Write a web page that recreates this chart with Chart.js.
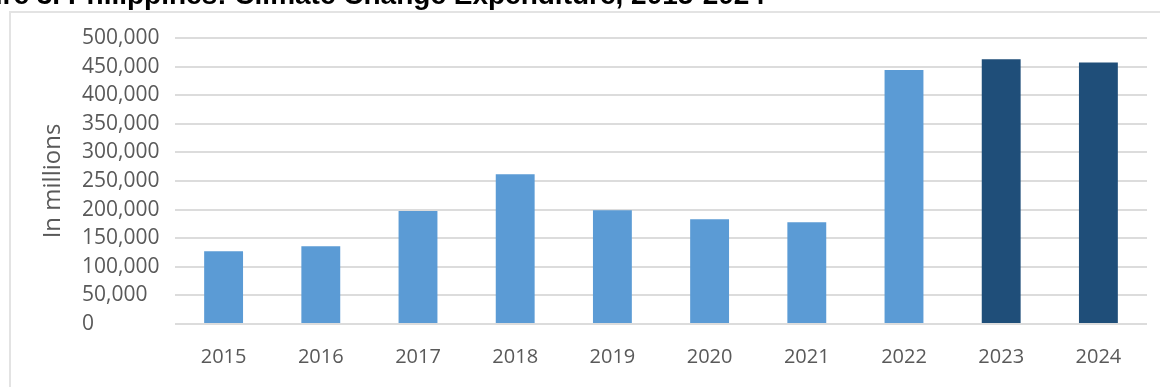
<!DOCTYPE html>
<html>
<head>
<meta charset="utf-8">
<script src="https://cdn.jsdelivr.net/npm/chart.js@4.4.1/dist/chart.umd.min.js"></script>
<style>
  html, body { margin: 0; padding: 0; background: #ffffff; }
  body { width: 1160px; height: 387px; position: relative; overflow: hidden; }
  #frame {
    position: absolute; left: 9px; top: 11px; width: 1160px; height: 400px;
    border-left: 2px solid #e3e3e3; border-top: 2px solid #e3e3e3;
    box-sizing: border-box;
  }
  #wrap { position: absolute; left: 0; top: 0; width: 1160px; height: 387px; }
</style>
</head>
<body>
<div id="frame"></div>
<div id="wrap"><canvas id="chart" width="1160" height="387"></canvas></div>
<script>
// Climate change expenditure by year, in millions of pesos
const years = ['2015', '2016', '2017', '2018', '2019', '2020', '2021', '2022', '2023', '2024'];
const expenditure = [127000, 136000, 197500, 262000, 199000, 183000, 178000, 444000, 463000, 457000];
const highlightYears = ['2023', '2024'];
const titleText = 'Figure 3. Philippines: Climate Change Expenditure, 2015-2024';
const axisTitle = 'In millions';

const lightBlue = '#5b9bd5';
const darkBlue = '#1f4e79';

// Heading drawn above the chart frame
const headingPlugin = {
  id: 'heading',
  afterDraw(chart) {
    const ctx = chart.ctx;
    ctx.save();
    ctx.font = 'bold 28px "Liberation Sans", Arial, sans-serif';
    ctx.fillStyle = '#000000';
    ctx.textAlign = 'right';
    ctx.textBaseline = 'alphabetic';
    ctx.fillText(titleText, 765, 4);
    ctx.restore();
  }
};

new Chart(document.getElementById('chart'), {
  type: 'bar',
  data: {
    labels: years,
    datasets: [{
      data: expenditure,
      backgroundColor: years.map(y => highlightYears.includes(y) ? darkBlue : lightBlue),
      borderWidth: 0,
      barPercentage: 0.4,
      categoryPercentage: 1.0
    }]
  },
  options: {
    responsive: false,
    animation: false,
    events: [],
    layout: { padding: { left: 82, right: 13, top: 38, bottom: 0 } },
    plugins: {
      legend: { display: false },
      tooltip: { enabled: false },
      title: { display: false }
    },
    scales: {
      x: {
        grid: { display: false },
        border: { display: false },
        ticks: {
          color: '#595959',
          font: { family: '"Open Sans", sans-serif', size: 20 },
          padding: 13,
          maxRotation: 0
        },
        afterFit(scale) { scale.height = 387 - 324; }
      },
      y: {
        min: 0,
        max: 500000,
        border: { display: false },
        grid: { color: '#dcdcdc', lineWidth: 2, drawTicks: false },
        ticks: {
          stepSize: 50000,
          color: '#595959',
          font: { family: '"Open Sans", sans-serif', size: 21 },
          crossAlign: 'far',
          callback: v => v.toLocaleString('en-US')
        },
        title: {
          display: true,
          text: axisTitle,
          color: '#595959',
          font: { family: '"Open Sans", sans-serif', size: 24 },
          padding: { top: -43, bottom: 0 }
        },
        afterFit(scale) { scale.width = 175 - 82; }
      }
    }
  },
  plugins: [headingPlugin]
});
</script>
</body>
</html>
